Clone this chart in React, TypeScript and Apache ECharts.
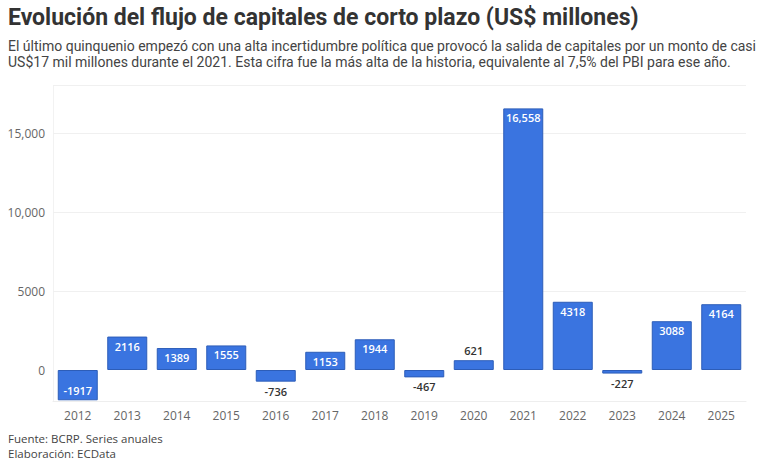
import React, { useEffect, useRef } from "react";
import * as echarts from "echarts";

const years = ["2012","2013","2014","2015","2016","2017","2018","2019","2020","2021","2022","2023","2024","2025"];
const values = [-1917, 2116, 1389, 1555, -736, 1153, 1944, -467, 621, 16558, 4318, -227, 3088, 4164];
const gridValues = [5000, 10000, 15000, 18000];
const yLabelValues = [0, 5000, 10000, 15000];

const titleText = "Evolución del flujo de capitales de corto plazo (US$ millones)";
const subLine1 = "El último quinquenio empezó con una alta incertidumbre política que provocó la salida de capitales por un monto de casi";
const subLine2 = "US$17 mil millones durante el 2021. Esta cifra fue la más alta de la historia, equivalente al 7,5% del PBI para ese año.";
const footer1 = "Fuente: BCRP. Series anuales";
const footer2 = "Elaboración: ECData";

const fmt = (v: number) => {
  const a = Math.abs(v);
  const s = a >= 10000 ? a.toLocaleString("en-US") : String(a);
  return (v < 0 ? "-" : "") + s;
};

export default function App() {
  const ref = useRef<HTMLDivElement>(null);
  useEffect(() => {
    document.body.style.margin = "0";
    const chart = echarts.init(ref.current!, null, { renderer: "svg" });
    const font = "'Open Sans', 'Noto Sans', sans-serif";
    chart.setOption({
      animation: false,
      backgroundColor: "#ffffff",
      grid: { left: 53, right: 22, top: 85.6, bottom: 66.4 },
      xAxis: {
        type: "category",
        data: years,
        axisLine: { show: true, onZero: false, lineStyle: { color: "#eeeeee" } },
        axisTick: { show: false },
        axisLabel: { color: "#666", fontSize: 12, fontFamily: font, margin: 8 },
      },
      yAxis: {
        type: "value",
        min: -2000,
        max: 18000,
        interval: 1000,
        splitLine: { show: false },
        axisLine: { show: true, lineStyle: { color: "#f2f2f2" } },
        axisTick: { show: false },
        axisLabel: {
          color: "#666",
          fontSize: 12,
          fontFamily: font,
          margin: 8,
          formatter: (v: number) => (yLabelValues.includes(v) ? fmt(v) : ""),
        },
      },
      series: [
        {
          type: "line",
          data: [],
          z: 1,
          silent: true,
          markLine: {
            silent: true,
            symbol: "none",
            z: 1,
            label: { show: false },
            lineStyle: { color: "#f0f0f0", type: "solid", width: 1 },
            data: gridValues.map((g) => ({ yAxis: g })),
          },
        },
        {
          type: "bar",
          data: values.map((v) => {
            const big = Math.abs(v) >= 1000;
            let position = "insideTop";
            if (v < 0) position = big ? "insideBottom" : "bottom";
            else if (!big) position = "top";
            return {
              value: v,
              label: {
                show: true,
                position,
                distance: 4,
                color: big ? "#ffffff" : "#333333",
                fontSize: 11,
                fontWeight: 600,
                fontFamily: font,
                formatter: () => fmt(v),
              },
            };
          }),
          barWidth: 40,
          itemStyle: { color: "#3a74e0", borderColor: "#2d5db8", borderWidth: 1 },
          z: 3,
        },
      ],
      graphic: [
        {
          type: "text",
          left: 8,
          top: 6,
          style: { text: titleText, font: "bold 23px 'Liberation Sans Narrow', 'Roboto', sans-serif", fill: "#333" },
        },
        {
          type: "text",
          left: 8,
          top: 38,
          style: { text: subLine1 + "\n" + subLine2, font: "14px 'Liberation Sans Narrow', 'Roboto', sans-serif", fill: "#444", lineHeight: 16 },
        },
        {
          type: "text",
          left: 8,
          top: 431,
          style: { text: footer1 + "\n" + footer2, font: "11.5px 'Open Sans', sans-serif", fill: "#444", lineHeight: 15 },
        },
      ],
    });
    return () => chart.dispose();
  }, []);
  return <div ref={ref} style={{ width: 768, height: 468 }} />;
}
